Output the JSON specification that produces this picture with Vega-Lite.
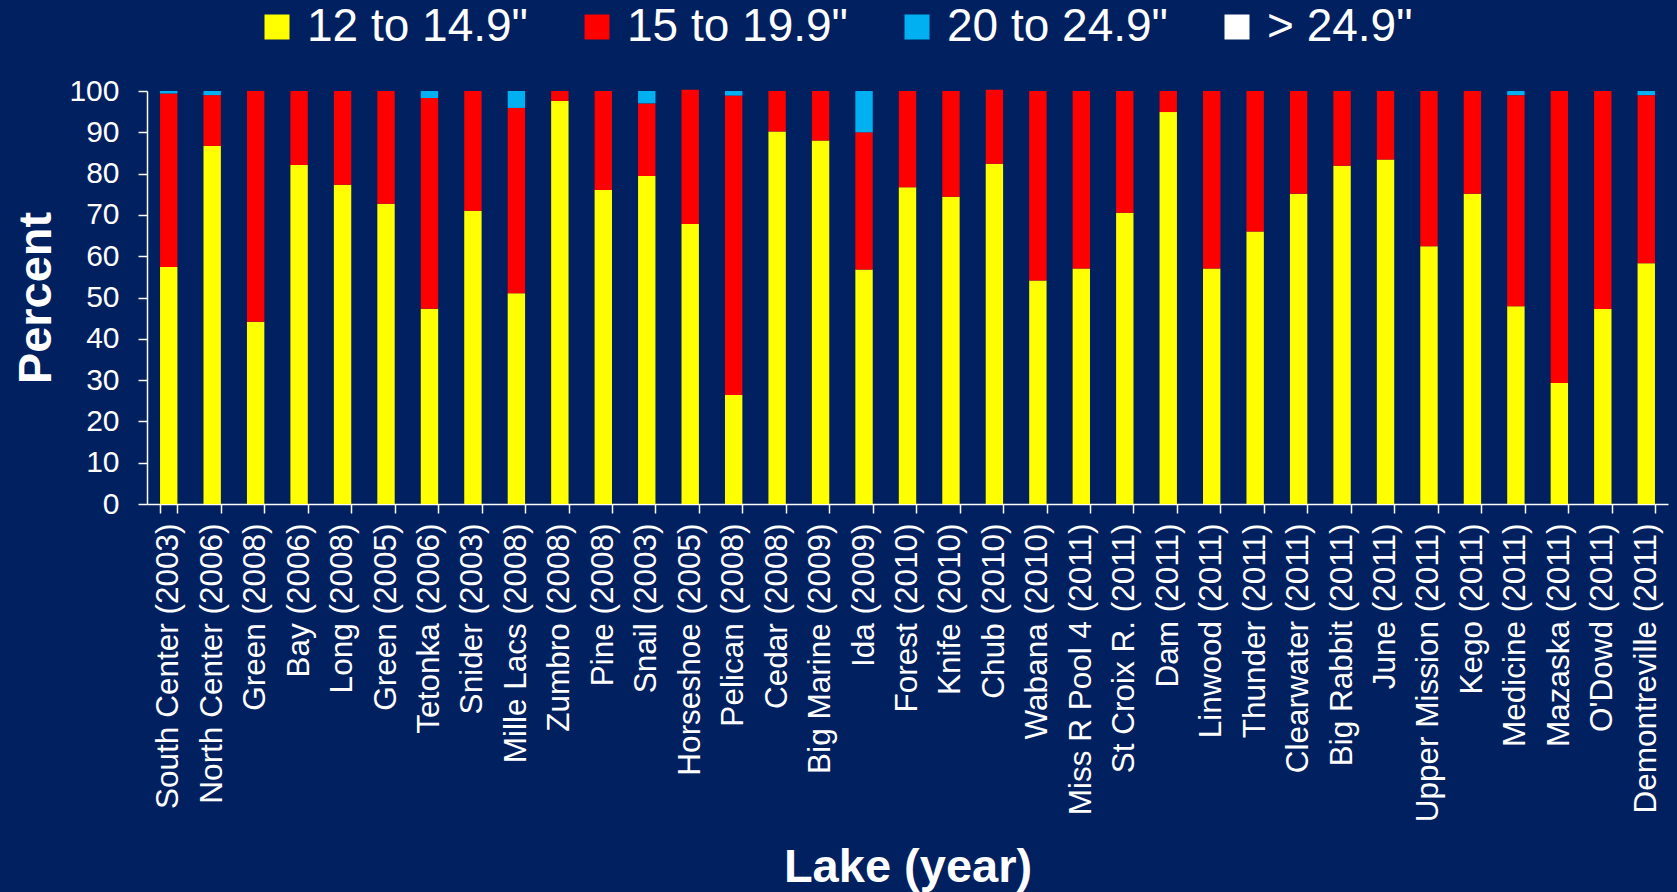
{
  "$schema": "https://vega.github.io/schema/vega-lite/v6.json",
  "autosize": {"type": "none"},
  "padding": {"left": 147, "top": 91, "right": 9, "bottom": 388},
  "width": 1521,
  "height": 413,
  "background": "#002060",
  "config": {
    "view": {"stroke": null},
    "font": "Liberation Sans",
    "axis": {
      "grid": false,
      "domainColor": "#FFFFFF",
      "domainWidth": 1.5,
      "tickColor": "#FFFFFF",
      "tickWidth": 1.5,
      "tickSize": 9,
      "labelColor": "#FFFFFF",
      "titleColor": "#FFFFFF",
      "labelFont": "Liberation Sans",
      "titleFont": "Liberation Sans",
      "titleFontWeight": "bold",
      "titleFontSize": 47
    },
    "legend": {
      "labelColor": "#FFFFFF",
      "labelFont": "Liberation Sans"
    }
  },
  "data": {
    "values": [
      {"lake": "South Center (2003)", "size": "12 to 14.9\"", "pct": 57.4},
      {"lake": "South Center (2003)", "size": "15 to 19.9\"", "pct": 42.0},
      {"lake": "South Center (2003)", "size": "20 to 24.9\"", "pct": 0.6},
      {"lake": "North Center (2006)", "size": "12 to 14.9\"", "pct": 86.7},
      {"lake": "North Center (2006)", "size": "15 to 19.9\"", "pct": 12.3},
      {"lake": "North Center (2006)", "size": "20 to 24.9\"", "pct": 1.0},
      {"lake": "Green (2008)", "size": "12 to 14.9\"", "pct": 44.1},
      {"lake": "Green (2008)", "size": "15 to 19.9\"", "pct": 55.9},
      {"lake": "Bay (2006)", "size": "12 to 14.9\"", "pct": 82.1},
      {"lake": "Bay (2006)", "size": "15 to 19.9\"", "pct": 17.9},
      {"lake": "Long (2008)", "size": "12 to 14.9\"", "pct": 77.3},
      {"lake": "Long (2008)", "size": "15 to 19.9\"", "pct": 22.7},
      {"lake": "Green (2005)", "size": "12 to 14.9\"", "pct": 72.7},
      {"lake": "Green (2005)", "size": "15 to 19.9\"", "pct": 27.3},
      {"lake": "Tetonka (2006)", "size": "12 to 14.9\"", "pct": 47.3},
      {"lake": "Tetonka (2006)", "size": "15 to 19.9\"", "pct": 51.0},
      {"lake": "Tetonka (2006)", "size": "20 to 24.9\"", "pct": 1.7},
      {"lake": "Snider (2003)", "size": "12 to 14.9\"", "pct": 71.0},
      {"lake": "Snider (2003)", "size": "15 to 19.9\"", "pct": 29.0},
      {"lake": "Mille Lacs (2008)", "size": "12 to 14.9\"", "pct": 51.0},
      {"lake": "Mille Lacs (2008)", "size": "15 to 19.9\"", "pct": 44.9},
      {"lake": "Mille Lacs (2008)", "size": "20 to 24.9\"", "pct": 4.1},
      {"lake": "Zumbro (2008)", "size": "12 to 14.9\"", "pct": 97.6},
      {"lake": "Zumbro (2008)", "size": "15 to 19.9\"", "pct": 2.4},
      {"lake": "Pine (2008)", "size": "12 to 14.9\"", "pct": 76.0},
      {"lake": "Pine (2008)", "size": "15 to 19.9\"", "pct": 24.0},
      {"lake": "Snail (2003)", "size": "12 to 14.9\"", "pct": 79.4},
      {"lake": "Snail (2003)", "size": "15 to 19.9\"", "pct": 17.6},
      {"lake": "Snail (2003)", "size": "20 to 24.9\"", "pct": 3.0},
      {"lake": "Horseshoe (2005)", "size": "12 to 14.9\"", "pct": 67.8},
      {"lake": "Horseshoe (2005)", "size": "15 to 19.9\"", "pct": 32.5},
      {"lake": "Pelican (2008)", "size": "12 to 14.9\"", "pct": 26.4},
      {"lake": "Pelican (2008)", "size": "15 to 19.9\"", "pct": 72.5},
      {"lake": "Pelican (2008)", "size": "20 to 24.9\"", "pct": 1.1},
      {"lake": "Cedar (2008)", "size": "12 to 14.9\"", "pct": 90.2},
      {"lake": "Cedar (2008)", "size": "15 to 19.9\"", "pct": 9.8},
      {"lake": "Big Marine (2009)", "size": "12 to 14.9\"", "pct": 88.0},
      {"lake": "Big Marine (2009)", "size": "15 to 19.9\"", "pct": 12.0},
      {"lake": "Ida (2009)", "size": "12 to 14.9\"", "pct": 56.8},
      {"lake": "Ida (2009)", "size": "15 to 19.9\"", "pct": 33.2},
      {"lake": "Ida (2009)", "size": "20 to 24.9\"", "pct": 10.0},
      {"lake": "Forest (2010)", "size": "12 to 14.9\"", "pct": 76.7},
      {"lake": "Forest (2010)", "size": "15 to 19.9\"", "pct": 23.3},
      {"lake": "Knife (2010)", "size": "12 to 14.9\"", "pct": 74.4},
      {"lake": "Knife (2010)", "size": "15 to 19.9\"", "pct": 25.6},
      {"lake": "Chub (2010)", "size": "12 to 14.9\"", "pct": 82.4},
      {"lake": "Chub (2010)", "size": "15 to 19.9\"", "pct": 17.9},
      {"lake": "Wabana (2010)", "size": "12 to 14.9\"", "pct": 54.1},
      {"lake": "Wabana (2010)", "size": "15 to 19.9\"", "pct": 45.9},
      {"lake": "Miss R Pool 4 (2011)", "size": "12 to 14.9\"", "pct": 57.0},
      {"lake": "Miss R Pool 4 (2011)", "size": "15 to 19.9\"", "pct": 43.0},
      {"lake": "St Croix R. (2011)", "size": "12 to 14.9\"", "pct": 70.5},
      {"lake": "St Croix R. (2011)", "size": "15 to 19.9\"", "pct": 29.5},
      {"lake": "Dam (2011)", "size": "12 to 14.9\"", "pct": 94.9},
      {"lake": "Dam (2011)", "size": "15 to 19.9\"", "pct": 5.1},
      {"lake": "Linwood (2011)", "size": "12 to 14.9\"", "pct": 57.0},
      {"lake": "Linwood (2011)", "size": "15 to 19.9\"", "pct": 43.0},
      {"lake": "Thunder (2011)", "size": "12 to 14.9\"", "pct": 66.0},
      {"lake": "Thunder (2011)", "size": "15 to 19.9\"", "pct": 34.0},
      {"lake": "Clearwater (2011)", "size": "12 to 14.9\"", "pct": 75.1},
      {"lake": "Clearwater (2011)", "size": "15 to 19.9\"", "pct": 24.9},
      {"lake": "Big Rabbit (2011)", "size": "12 to 14.9\"", "pct": 81.9},
      {"lake": "Big Rabbit (2011)", "size": "15 to 19.9\"", "pct": 18.1},
      {"lake": "June (2011)", "size": "12 to 14.9\"", "pct": 83.4},
      {"lake": "June (2011)", "size": "15 to 19.9\"", "pct": 16.6},
      {"lake": "Upper Mission (2011)", "size": "12 to 14.9\"", "pct": 62.4},
      {"lake": "Upper Mission (2011)", "size": "15 to 19.9\"", "pct": 37.6},
      {"lake": "Kego (2011)", "size": "12 to 14.9\"", "pct": 75.1},
      {"lake": "Kego (2011)", "size": "15 to 19.9\"", "pct": 24.9},
      {"lake": "Medicine (2011)", "size": "12 to 14.9\"", "pct": 47.9},
      {"lake": "Medicine (2011)", "size": "15 to 19.9\"", "pct": 51.1},
      {"lake": "Medicine (2011)", "size": "20 to 24.9\"", "pct": 1.0},
      {"lake": "Mazaska (2011)", "size": "12 to 14.9\"", "pct": 29.3},
      {"lake": "Mazaska (2011)", "size": "15 to 19.9\"", "pct": 70.7},
      {"lake": "O'Dowd (2011)", "size": "12 to 14.9\"", "pct": 47.2},
      {"lake": "O'Dowd (2011)", "size": "15 to 19.9\"", "pct": 52.8},
      {"lake": "Demontreville (2011)", "size": "12 to 14.9\"", "pct": 58.3},
      {"lake": "Demontreville (2011)", "size": "15 to 19.9\"", "pct": 40.7},
      {"lake": "Demontreville (2011)", "size": "20 to 24.9\"", "pct": 1.0}
    ]
  },
  "mark": {"type": "bar"},
  "encoding": {
    "x": {
      "field": "lake",
      "type": "nominal",
      "sort": null,
      "scale": {"paddingInner": 0.6, "paddingOuter": 0.3},
      "axis": {
        "title": "Lake (year)",
        "labelAngle": -90,
        "labelAlign": "right",
        "labelBaseline": "middle",
        "labelFontSize": 31.5,
        "labelPadding": 10,
        "labelLimit": 500,
        "labelOverlap": false,
        "tickBand": "extent",
        "titleX": 760.5,
        "titleY": 377,
        "titleBaseline": "alphabetic"
      }
    },
    "y": {
      "field": "pct",
      "type": "quantitative",
      "stack": "zero",
      "scale": {"domain": [0, 100], "nice": false},
      "axis": {
        "title": "Percent",
        "values": [0, 10, 20, 30, 40, 50, 60, 70, 80, 90, 100],
        "labelFontSize": 30,
        "labelPadding": 19,
        "titleX": -97,
        "titleY": 206.5,
        "titleBaseline": "alphabetic"
      }
    },
    "order": {"field": "size", "type": "nominal", "sort": "ascending"},
    "color": {
      "field": "size",
      "type": "nominal",
      "scale": {
        "domain": ["12 to 14.9\"", "15 to 19.9\"", "20 to 24.9\"", "> 24.9\""],
        "range": ["#FFFF00", "#FF0000", "#00B0F0", "#FFFFFF"]
      },
      "legend": {
        "title": null,
        "orient": "none",
        "direction": "horizontal",
        "columns": 4,
        "gridAlign": "all",
        "columnPadding": 46,
        "legendX": 107,
        "legendY": -87,
        "symbolType": "square",
        "symbolSize": 625,
        "symbolStrokeWidth": 0,
        "symbolOpacity": 1,
        "labelFontSize": 46,
        "labelOffset": 7,
        "labelLimit": 600
      }
    }
  }
}
